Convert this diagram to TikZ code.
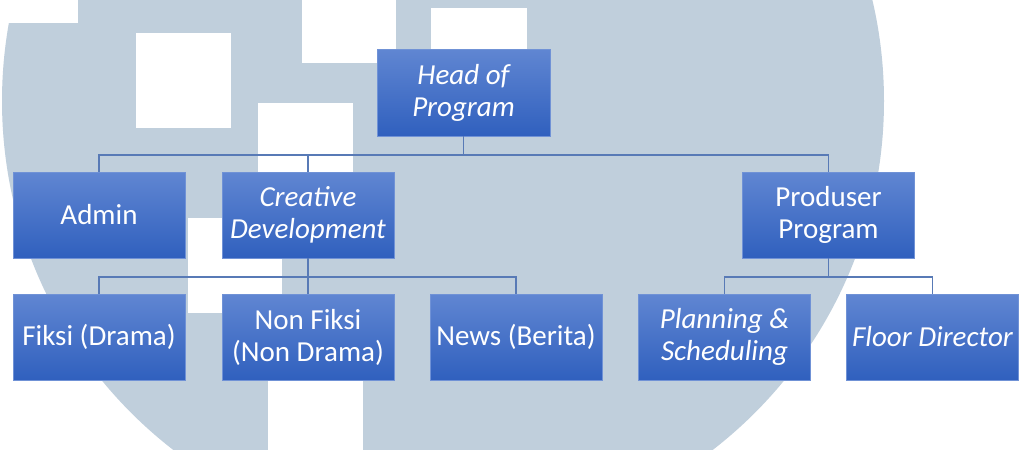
\documentclass[tikz,border=0pt]{standalone}
\usepackage{fontspec}
\setmainfont{Carlito}
\definecolor{bgcirc}{RGB}{192,207,220}
\definecolor{boxtop}{RGB}{96,134,210}
\definecolor{boxbot}{RGB}{48,96,190}
\definecolor{boxedge}{RGB}{112,146,214}
\definecolor{conn}{RGB}{88,122,182}
\begin{document}
\begin{tikzpicture}[x=1pt,y=-1pt,
  orgbox/.style={rectangle, minimum width=172pt, minimum height=86pt, inner sep=0pt,
    top color=boxtop, bottom color=boxbot, draw=boxedge, line width=0.6pt,
    text=white, align=center, font=\fontsize{29}{32}\selectfont},
  link/.style={draw=conn, line width=1.3pt}]
\useasboundingbox (0,0) rectangle (1021,450);
\begin{scope}
\clip (0,0) rectangle (1021,450);
\fill[white] (0,0) rectangle (1021,450);
\fill[bgcirc] (443,101) circle[radius=441];
\fill[white] (0,0) rectangle (78,23);
\fill[white] (136,33) rectangle (231,128);
\fill[white] (258,103) rectangle (353,200);
\fill[white] (188,218) rectangle (282,313);
\fill[white] (302,0) rectangle (396,63);
\fill[white] (431,8) rectangle (527,60);
\fill[white] (268,300) rectangle (363,450);
\end{scope}
\coordinate (b1) at (463.5,155);
\coordinate (b2) at (308,277);
\coordinate (b3) at (828.5,277);
\node[orgbox, minimum width=173pt, minimum height=87pt] (head) at (463.5,92.5) {\itshape Head of\\\itshape Program};
\node[orgbox] (admin) at (99,215) {Admin};
\node[orgbox] (creative) at (308,215) {\itshape Creative\\\itshape Development};
\node[orgbox] (produser) at (828.5,215) {Produser\\Program};
\node[orgbox] (fiksi) at (99,337) {Fiksi (Drama)};
\node[orgbox] (nonfiksi) at (308,337) {Non Fiksi\\(Non Drama)};
\node[orgbox] (news) at (516,337) {News (Berita)};
\node[orgbox] (planning) at (724.5,337) {\itshape Planning \&\\\itshape Scheduling};
\node[orgbox] (floor) at (932.5,337) {\itshape Floor Director};
\draw[link] (head.south) -- (b1);
\draw[link] (admin.north) |- (b1);
\draw[link] (creative.north) |- (b1);
\draw[link] (produser.north) |- (b1);
\draw[link] (creative.south) -- (b2);
\draw[link] (fiksi.north) |- (b2);
\draw[link] (nonfiksi.north) -- (b2);
\draw[link] (news.north) |- (b2);
\draw[link] (produser.south) -- (b3);
\draw[link] (planning.north) |- (b3);
\draw[link] (floor.north) |- (b3);
\end{tikzpicture}
\end{document}
